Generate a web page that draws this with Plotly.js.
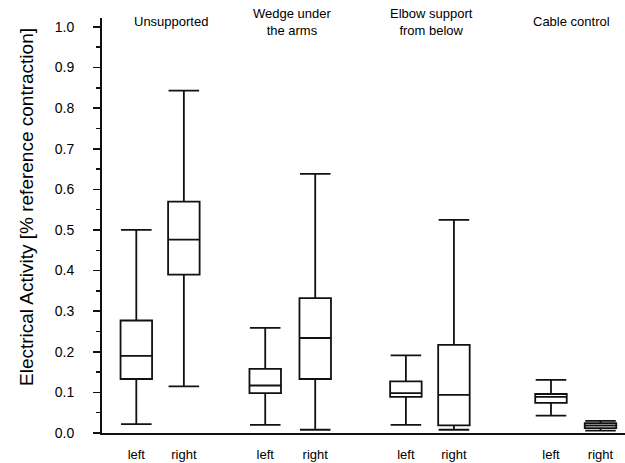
<!DOCTYPE html>
<html>
<head>
<meta charset="utf-8">
<script src="https://cdn.plot.ly/plotly-3.0.1.min.js"></script>
<style>html,body{margin:0;padding:0;background:#fff;}#chart{width:625px;height:463px;}</style>
</head>
<body>
<div id="chart"></div>
<script>
// ---- data ----
var groups = ["Unsupported", "Wedge under<br>the arms", "Elbow support<br>from below", "Cable control"];
var sides = ["left", "right", "left", "right", "left", "right", "left", "right"];
var upperFence = [0.500, 0.843, 0.259, 0.638, 0.191, 0.525, 0.131, 0.030];
var q3Values   = [0.277, 0.570, 0.158, 0.332, 0.127, 0.217, 0.096, 0.024];
var medians    = [0.190, 0.476, 0.117, 0.234, 0.098, 0.094, 0.089, 0.018];
var q1Values   = [0.133, 0.390, 0.098, 0.133, 0.089, 0.019, 0.074, 0.012];
var lowerFence = [0.022, 0.115, 0.020, 0.008, 0.020, 0.008, 0.043, 0.006];
var yTickVals  = [0.0, 0.1, 0.2, 0.3, 0.4, 0.5, 0.6, 0.7, 0.8, 0.9, 1.0];

// ---- layout positions (axis units) ----
var boxPos   = [0.70, 1.67, 3.33, 4.35, 6.20, 7.18, 9.16, 10.17];
var titlePos = [1.41, 3.88, 6.72, 9.57];

var fontFam = '"Liberation Sans", Arial, sans-serif';
var ink = '#000000';

var trace = {
  type: 'box',
  x: boxPos,
  q1: q1Values,
  median: medians,
  q3: q3Values,
  lowerfence: lowerFence,
  upperfence: upperFence,
  width: 0.643,
  whiskerwidth: 0.97,
  fillcolor: '#ffffff',
  line: {color: '#111111', width: 1.8},
  boxpoints: false,
  hoverinfo: 'skip',
  showlegend: false
};

var annotations = groups.map(function (g, i) {
  return {
    text: g, x: titlePos[i], xref: 'x', y: 0.991, yref: 'paper',
    xanchor: 'center', yanchor: 'middle', showarrow: false,
    font: {family: fontFam, size: 13, color: ink}
  };
});
annotations.push({
  text: 'Electrical Activity [% reference contraction]',
  xref: 'paper', x: (27 - 102) / 523,
  yref: 'paper', y: (433 - 207) / 415,
  xanchor: 'center', yanchor: 'middle',
  showarrow: false, textangle: -90,
  font: {family: fontFam, size: 19, color: ink}
});

var layout = {
  width: 625, height: 463,
  margin: {l: 102, r: 0, t: 18, b: 30, pad: 0},
  paper_bgcolor: '#ffffff', plot_bgcolor: '#ffffff',
  font: {family: fontFam, color: ink},
  xaxis: {
    range: [0, 10.67], showgrid: false, zeroline: false,
    showline: true, linecolor: '#111111', linewidth: 2,
    tickmode: 'array', tickvals: boxPos, ticktext: sides,
    ticks: '', ticklabelstandoff: 8,
    tickfont: {family: fontFam, size: 13, color: ink}
  },
  yaxis: {
    range: [0, 1.022], showgrid: false, zeroline: false,
    showline: true, linecolor: '#111111', linewidth: 2,
    tickmode: 'array', tickvals: yTickVals,
    ticktext: yTickVals.map(function (v) { return v.toFixed(1); }),
    ticks: 'outside', ticklen: 7, tickwidth: 1.5, tickcolor: '#111111',
    minor: {dtick: 0.05, tick0: 0, ticks: 'outside', ticklen: 4, tickwidth: 1.5, tickcolor: '#111111'},
    ticklabelstandoff: 16,
    tickfont: {family: fontFam, size: 14, color: ink}
  },
  annotations: annotations,
  showlegend: false
};

Plotly.newPlot('chart', [trace], layout, {displayModeBar: false, staticPlot: true});
</script>
</body>
</html>
